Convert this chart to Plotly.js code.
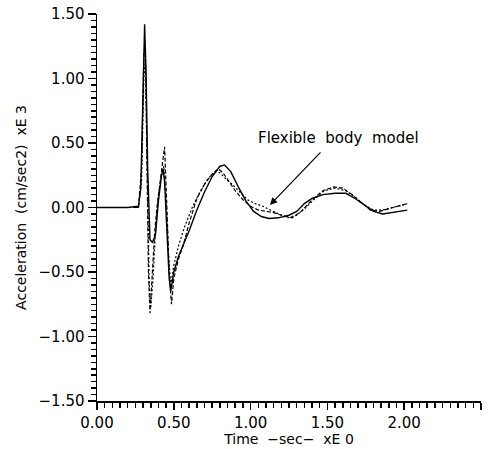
<!DOCTYPE html>
<html>
<head>
<meta charset="utf-8">
<script src="https://cdn.plot.ly/plotly-3.0.1.min.js"></script>
<style>html,body{margin:0;padding:0;background:#fff;}#chart{width:495px;height:449px;}</style>
</head>
<body>
<div id="chart"></div>
<script>
// Solid curve
const solidT = [0,0.10,0.20,0.27,0.285,0.30,0.31,0.32,0.33,0.345,0.36,0.38,0.40,0.42,0.43,0.44,0.455,0.47,0.48,0.50,0.53,0.56,0.60,0.65,0.70,0.75,0.80,0.83,0.87,0.92,0.97,1.02,1.07,1.12,1.18,1.25,1.30,1.35,1.40,1.47,1.55,1.62,1.68,1.74,1.80,1.86,1.92,1.97,2.02];
const solidA = [0,0,0,0.01,0.15,0.9,1.42,1.0,0.3,-0.25,-0.27,-0.22,0.05,0.25,0.30,0.2,-0.2,-0.55,-0.65,-0.50,-0.38,-0.30,-0.18,-0.02,0.12,0.24,0.32,0.33,0.28,0.16,0.05,-0.03,-0.07,-0.085,-0.08,-0.06,-0.03,0.03,0.07,0.10,0.11,0.11,0.07,0.02,-0.03,-0.05,-0.04,-0.03,-0.02];
// Dashed curve
const dashT = [0,0.27,0.29,0.305,0.315,0.325,0.335,0.345,0.36,0.375,0.39,0.41,0.43,0.44,0.455,0.47,0.485,0.50,0.53,0.56,0.60,0.65,0.70,0.75,0.79,0.82,0.86,0.90,0.95,1.00,1.05,1.10,1.15,1.20,1.27,1.33,1.40,1.47,1.54,1.60,1.66,1.72,1.78,1.84,1.90,1.96,2.02];
const dashA = [0,0,0.3,1.2,1.25,0.5,-0.5,-0.82,-0.5,-0.2,0.0,0.2,0.40,0.47,0.0,-0.5,-0.75,-0.55,-0.40,-0.30,-0.12,0.07,0.18,0.26,0.30,0.27,0.20,0.13,0.06,0.01,-0.02,-0.03,-0.04,-0.06,-0.08,-0.03,0.06,0.13,0.16,0.15,0.10,0.04,-0.02,-0.03,-0.01,0.01,0.03];
// Dotted curve
const dotT = [0,0.27,0.29,0.305,0.315,0.325,0.34,0.35,0.365,0.38,0.40,0.42,0.435,0.45,0.465,0.48,0.50,0.53,0.57,0.62,0.67,0.72,0.77,0.80,0.84,0.88,0.93,0.98,1.03,1.08,1.13,1.18,1.24,1.30,1.36,1.42,1.48,1.55,1.62,1.68,1.74,1.80,1.86,1.92,1.98,2.02];
const dotA = [0,0,0.2,1.0,1.15,0.4,-0.6,-0.78,-0.55,-0.2,0.1,0.25,0.32,0.05,-0.35,-0.6,-0.45,-0.30,-0.15,0.0,0.12,0.22,0.28,0.27,0.22,0.18,0.12,0.06,0.03,0.01,-0.02,-0.05,-0.08,-0.06,0.0,0.07,0.13,0.15,0.13,0.08,0.02,-0.02,-0.02,0.0,0.02,0.03];

const xRange = [0, 2.5];
const yRange = [-1.5, 1.5];
const majorStep = 0.5;
const minorStep = 0.05;

const FONT = 'DejaVu Sans, sans-serif';
const traces = [
  {x: solidT, y: solidA, mode:'lines', line:{color:'#000', width:1.4}},
  {x: dashT, y: dashA, mode:'lines', line:{color:'#000', width:1.2, dash:'4px,2px'}},
  {x: dotT, y: dotA, mode:'lines', line:{color:'#000', width:1.2, dash:'2px,2px'}}
];
const minorTicks = {dtick:minorStep, ticks:'outside', ticklen:5, tickwidth:1.5, tickcolor:'#000', showgrid:false};
const layout = {
  width:495, height:449,
  margin:{l:97, r:14, t:14, b:48},
  paper_bgcolor:'#fff', plot_bgcolor:'#fff',
  showlegend:false,
  font:{family:FONT, size:15, color:'#000'},
  xaxis:{range:xRange, dtick:majorStep, tickformat:'.2f', ticks:'outside', ticklen:7, tickwidth:1.5, tickcolor:'#000',
    showline:true, linecolor:'#000', linewidth:1.5, showgrid:false, zeroline:false,
    minor:minorTicks,
    tickfont:{family:FONT, size:15},
    title:{text:'Time  \u2212sec\u2212  xE 0', font:{family:FONT, size:14}, standoff:0}},
  yaxis:{range:yRange, dtick:majorStep, tickformat:'.2f', ticks:'outside', ticklen:8, tickwidth:1.5, tickcolor:'#000',
    showline:true, linecolor:'#000', linewidth:1.5, showgrid:false, zeroline:false,
    minor:minorTicks,
    tickfont:{family:FONT, size:15},
    title:{text:'Acceleration  (cm/sec2)  xE 3', font:{family:FONT, size:14}, standoff:8}},
  annotations:[
    {x:1.126, y:0.02, xref:'x', yref:'y', ax:52, ay:-54, text:'', showarrow:true, arrowhead:2, arrowsize:1.2, arrowwidth:1.2, arrowcolor:'#000'},
    {x:1.57, y:0.54, xref:'x', yref:'y', text:'Flexible  body  model', showarrow:false, font:{family:FONT, size:15, color:'#000'}}
  ]
};
Plotly.newPlot('chart', traces, layout, {displayModeBar:false, staticPlot:true});
</script>
</body>
</html>
